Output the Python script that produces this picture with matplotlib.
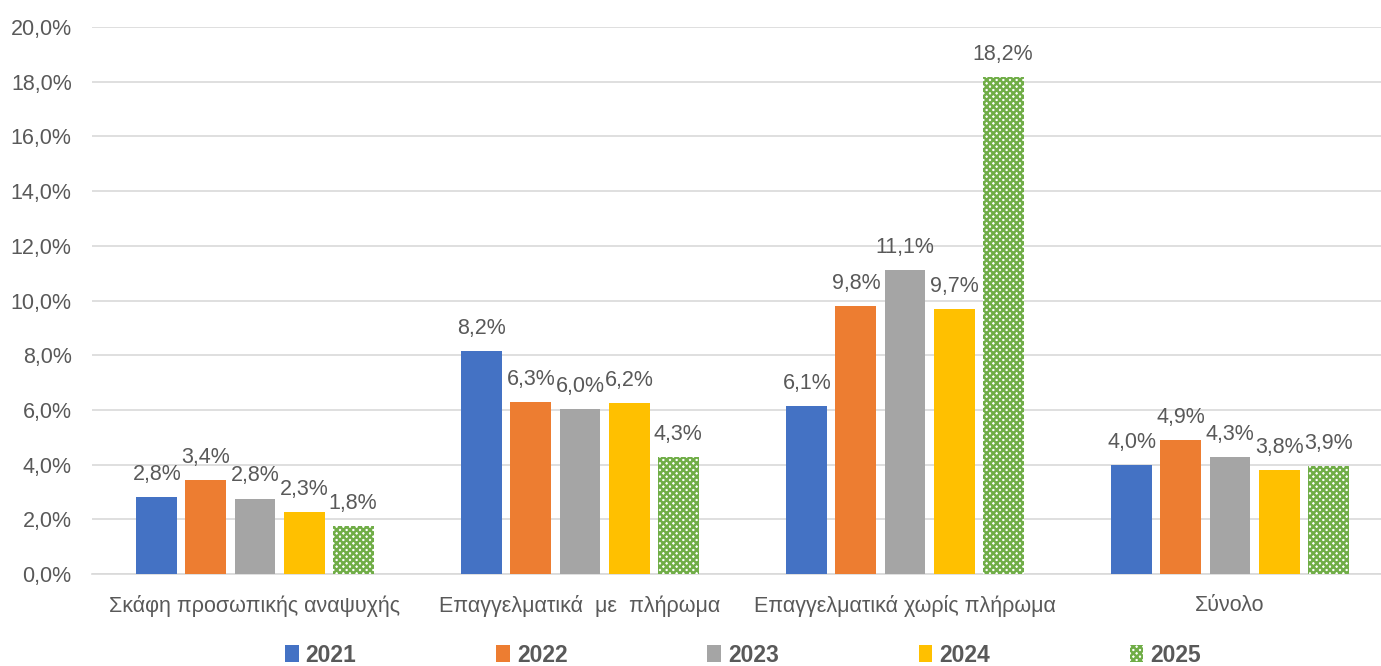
import numpy as np
import matplotlib.pyplot as plt
from matplotlib.patches import Patch

categories = ["Σκάφη προσωπικής αναψυχής", "Επαγγελματικά  με  πλήρωμα",
              "Επαγγελματικά χωρίς πλήρωμα", "Σύνολο"]
years = ["2021", "2022", "2023", "2024", "2025"]
v2021 = [2.80, 8.15, 6.14, 3.99]
v2022 = [3.44, 6.29, 9.80, 4.90]
v2023 = [2.76, 6.03, 11.10, 4.28]
v2024 = [2.27, 6.24, 9.69, 3.80]
v2025 = [1.76, 4.28, 18.17, 3.94]
series = [v2021, v2022, v2023, v2024, v2025]
colors = ["#4472c4", "#ed7d31", "#a5a5a5", "#ffc000", "#ffffff"]

txt = "#595959"
green = "#70ad47"
plt.rcParams['font.family'] = ['Liberation Sans', 'DejaVu Sans']
plt.rcParams['hatch.linewidth'] = 1.8

fig = plt.figure(figsize=(13.81, 6.66), dpi=100)
ax = fig.add_axes([92.5/1381, 1-574/666, 1-92.5/1381, 547/666])

x = np.arange(len(categories))
step = 0.151
w = 0.126
for i, vals in enumerate(series):
    pos = x + (i - 2) * step
    if i == 4:
        bars = ax.bar(pos, vals, w, color=colors[i], hatch='xxxxx',
                      edgecolor=green, linewidth=0, zorder=3)
    else:
        bars = ax.bar(pos, vals, w, color=colors[i], zorder=3)
    for b, v in zip(bars, vals):
        ax.text(b.get_x() + b.get_width()/2, v + 0.45, f"{v:.1f}%".replace('.', ','),
                ha='center', va='bottom', fontsize=15.5, color=txt)

ax.set_ylim(0, 20)
ax.set_xlim(-0.5, 3.5 - 11.5/325)
ax.set_yticks(np.arange(0, 21, 2))
ax.set_yticklabels([f"{t:.1f}%".replace('.', ',') for t in np.arange(0, 21, 2)])
ax.set_xticks(x)
ax.set_xticklabels(categories)
ax.tick_params(axis='both', length=0, labelsize=15.5, colors=txt)
ax.tick_params(axis='x', pad=15)
ax.tick_params(axis='y', pad=15)
ax.grid(axis='y', color='#d9d9d9', linewidth=1.2, zorder=0)
for s in ['top', 'right', 'left']:
    ax.spines[s].set_visible(False)
ax.spines['bottom'].set_color('#d9d9d9')
ax.spines['bottom'].set_linewidth(1.2)

handles = []
for i, y in enumerate(years):
    if i == 4:
        handles.append(Patch(facecolor='white', hatch='xxxxx', edgecolor=green, linewidth=0, label=y))
    else:
        handles.append(Patch(facecolor=colors[i], label=y))
leg = fig.legend(handles=handles, loc='center', bbox_to_anchor=(0.538, 1-655/666), ncol=5,
                 frameon=False, prop={'weight': 'bold', 'size': 16.5},
                 handlelength=0.6, handleheight=0.75, handletextpad=0.3, columnspacing=6.1)
for t in leg.get_texts():
    t.set_color(txt)

fig.savefig("out.png", dpi=100)
